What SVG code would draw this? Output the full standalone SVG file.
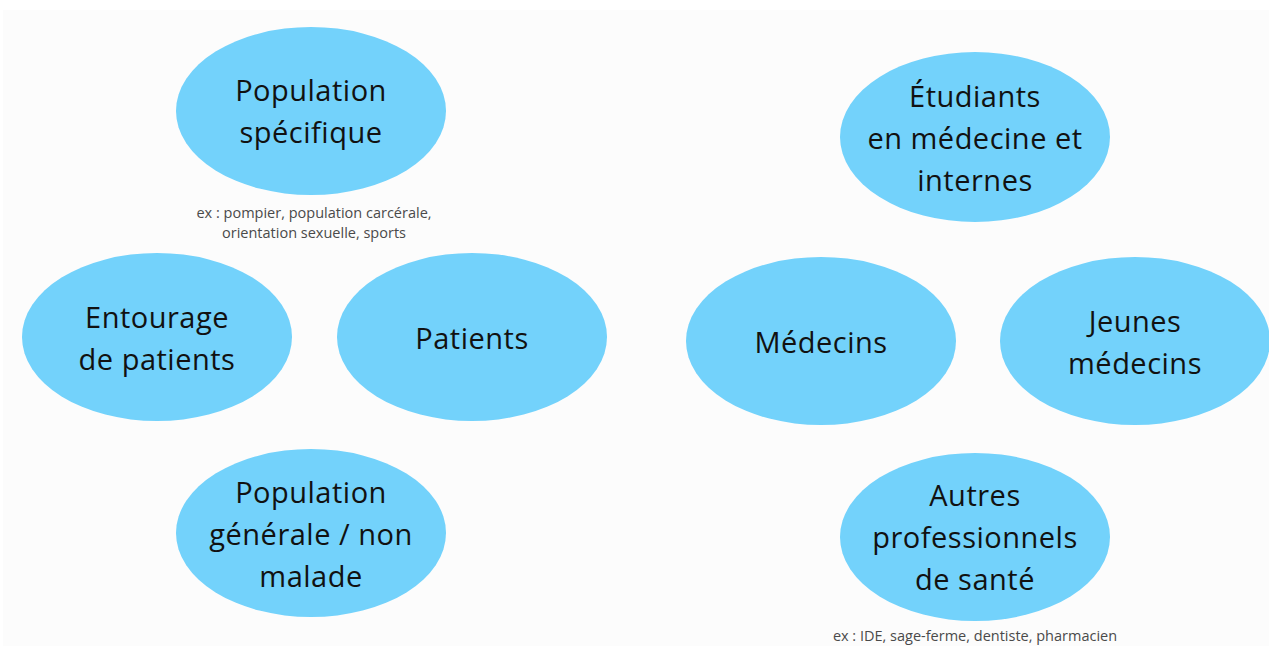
<svg xmlns="http://www.w3.org/2000/svg" width="1269" height="646" viewBox="0 0 1269 646">
<style>
.n{fill:#73D2FB;}
.t{font-family:"Open Sans","Noto Sans",sans-serif;font-size:29px;letter-spacing:0.5px;fill:#111;text-anchor:middle;font-variant-ligatures:none;}
.s{font-family:"Open Sans","Noto Sans",sans-serif;font-size:14.5px;fill:#4a4a4a;text-anchor:middle;font-variant-ligatures:none;}
</style>
<rect x="0" y="0" width="1269" height="646" fill="#ffffff"/>
<rect x="3" y="10" width="1266" height="636" fill="#fcfcfc"/>
<g id="connectors"></g>
<g id="pop-specifique">
<ellipse class="n" cx="311" cy="111" rx="135" ry="84"/>
<text class="t" x="311" y="101">Population</text>
<text class="t" x="311" y="143">spécifique</text>
<text class="s" x="314" y="218">ex : pompier, population carcérale,</text>
<text class="s" x="314" y="238">orientation sexuelle, sports</text>
</g>
<g id="entourage">
<ellipse class="n" cx="157" cy="337" rx="135" ry="84"/>
<text class="t" x="157" y="328">Entourage</text>
<text class="t" x="157" y="370">de patients</text>
</g>
<g id="patients">
<ellipse class="n" cx="472" cy="337" rx="135" ry="84"/>
<text class="t" x="472" y="349">Patients</text>
</g>
<g id="pop-generale">
<ellipse class="n" cx="311" cy="533" rx="135" ry="84"/>
<text class="t" x="311" y="503">Population</text>
<text class="t" x="311" y="545">générale / non</text>
<text class="t" x="311" y="587">malade</text>
</g>
<g id="etudiants">
<ellipse class="n" cx="975" cy="137" rx="135" ry="85"/>
<text class="t" x="975" y="107">Étudiants</text>
<text class="t" x="975" y="149">en médecine et</text>
<text class="t" x="975" y="191">internes</text>
</g>
<g id="medecins">
<ellipse class="n" cx="821" cy="341" rx="135" ry="84"/>
<text class="t" x="821" y="353">Médecins</text>
</g>
<g id="jeunes">
<ellipse class="n" cx="1135" cy="341" rx="135" ry="84"/>
<text class="t" x="1135" y="332">Jeunes</text>
<text class="t" x="1135" y="374">médecins</text>
</g>
<g id="autres">
<ellipse class="n" cx="975" cy="537" rx="135" ry="84"/>
<text class="t" x="975" y="506">Autres</text>
<text class="t" x="975" y="548">professionnels</text>
<text class="t" x="975" y="590">de santé</text>
<text class="s" x="975" y="641">ex : IDE, sage-ferme, dentiste, pharmacien</text>
</g>
</svg>
